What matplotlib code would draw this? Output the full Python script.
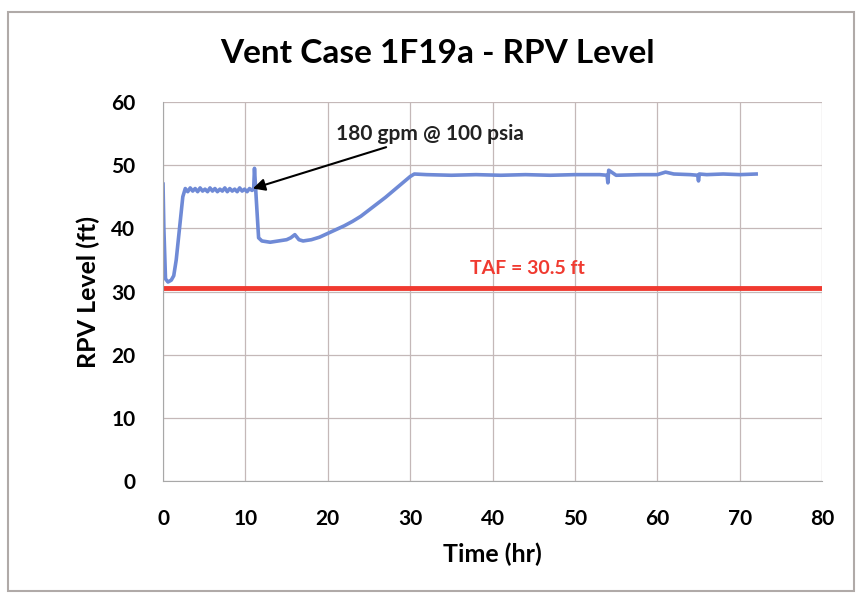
import matplotlib.pyplot as plt
from matplotlib.patches import Rectangle

plt.rcParams['font.family'] = ['Lato', 'DejaVu Sans']

# datos
tiempo = [0, 0.1, 0.3, 0.6, 1.0, 1.3, 1.6, 2.0, 2.4, 2.7, 3.0, 3.3, 3.6, 3.9,
          4.2, 4.5, 4.8, 5.1, 5.4, 5.7, 6.0, 6.3, 6.6, 6.9, 7.2, 7.5, 7.8,
          8.1, 8.4, 8.7, 9.0, 9.3, 9.6, 9.9, 10.2, 10.5, 10.8, 11.0, 11.1,
          11.3, 11.6, 12, 13, 14, 15, 15.5, 16, 16.5, 17, 18, 19, 20, 21, 22,
          23, 24, 25, 26, 27, 28, 29, 30, 30.5, 32, 35, 38, 41, 44, 47, 50,
          53, 53.9, 54.0, 54.1, 55, 58, 60, 61, 62, 64, 64.9, 65.0, 65.1, 66,
          68, 70, 72]
nivel = [47, 40, 32, 31.5, 31.8, 32.5, 35, 40, 45, 46.3, 45.8, 46.4, 45.9,
         46.3, 45.8, 46.4, 45.9, 46.2, 45.8, 46.4, 45.9, 46.3, 45.8, 46.2,
         45.9, 46.4, 45.8, 46.3, 45.9, 46.2, 45.8, 46.4, 45.9, 46.2, 45.8,
         46.3, 46.0, 46.2, 49.5, 45, 38.5, 38, 37.8, 38, 38.2, 38.5, 39, 38.2,
         38, 38.2, 38.6, 39.2, 39.8, 40.4, 41.1, 41.9, 42.9, 43.9, 44.9, 46,
         47.1, 48.2, 48.6, 48.5, 48.4, 48.5, 48.4, 48.5, 48.4, 48.5, 48.5,
         48.4, 47.2, 49.2, 48.4, 48.5, 48.5, 48.9, 48.6, 48.5, 48.4, 47.5,
         48.6, 48.5, 48.6, 48.5, 48.6]

taf = 30.5
xticks = [0, 10, 20, 30, 40, 50, 60, 70, 80]
yticks = [0, 10, 20, 30, 40, 50, 60]

fig = plt.figure(figsize=(8.59, 5.94), dpi=100)
fig.patches.append(Rectangle((0.009, 0.005), 0.985, 0.975, transform=fig.transFigure,
                             fill=False, edgecolor='#b0aaa8', linewidth=1.5))
ax = fig.add_axes([0.1898, 0.1902, 0.7672, 0.6381])

ax.plot(tiempo, nivel, color='#6f8ad6', linewidth=2.6)
ax.plot([0, 80], [taf, taf], color='#f03a30', linewidth=3.5)

ax.set_xlim(0, 80)
ax.set_ylim(0, 60)
ax.set_xticks(xticks)
ax.set_yticks(yticks)
ax.tick_params(length=0, labelsize=15)
ax.tick_params(axis='x', pad=20)
ax.tick_params(axis='y', pad=20)
for lab in ax.get_xticklabels() + ax.get_yticklabels():
    lab.set_fontweight('bold')
ax.grid(True, color='#c4b8b8', linewidth=0.9)
ax.set_axisbelow(True)
for s in ['top', 'right']:
    ax.spines[s].set_visible(False)
for s in ['left', 'bottom']:
    ax.spines[s].set_color('#a8a8a8')

fig.text(0.509, 0.91, "Vent Case 1F19a - RPV Level", fontsize=24,
         fontweight='bold', ha='center', va='center')
ax.set_xlabel("Time (hr)", fontsize=18, fontweight='bold', labelpad=10)
ax.set_ylabel("RPV Level (ft)", fontsize=18, fontweight='bold', labelpad=8)

ax.annotate("180 gpm @ 100 psia", xy=(10.9, 46.3), xytext=(21, 55),
            fontsize=15, fontweight='bold', va='center', color='#222222',
            arrowprops=dict(arrowstyle='-|>', color='black', lw=1.5,
                            mutation_scale=18, shrinkB=0))
ax.text(44.2, 33.7, "TAF = 30.5 ft", color='#f03a30', fontsize=14,
        fontweight='bold', ha='center', va='center')

plt.savefig("out.png", dpi=100)
